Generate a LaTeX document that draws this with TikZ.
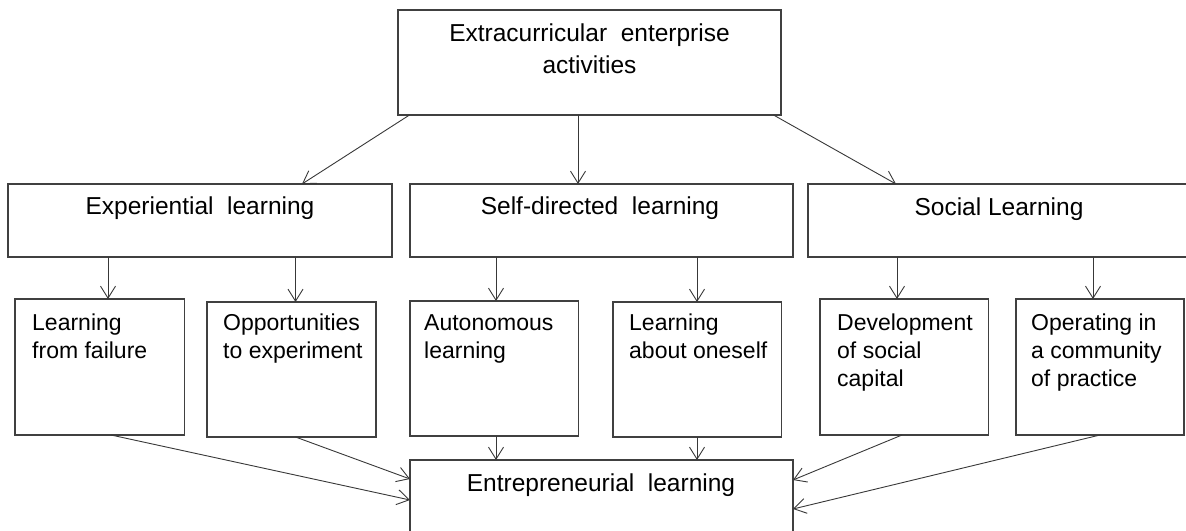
\documentclass[tikz,border=0pt]{standalone}
\usepackage{fontspec}
\setmainfont{Liberation Sans}
\usetikzlibrary{arrows.meta,calc}
\definecolor{boxc}{HTML}{404040}
\definecolor{arrc}{HTML}{383838}
\newcommand\hfs{\fontsize{24.5bp}{32bp}\selectfont}
\newcommand\bfs{\fontsize{23bp}{28.3bp}\selectfont}
\begin{document}
\begin{tikzpicture}[x=1bp,y=-1bp,
  box/.style={draw=boxc, line width=1.1bp, inner sep=0, outer sep=0, anchor=north west},
  arr/.style={draw=arrc, line width=0.9bp, -{Straight Barb[length=12bp,width=15bp]}},
  head/.style={font=\hfs, inner sep=0, anchor=base},
  lbl/.style={font=\bfs, inner sep=0, anchor=north west, align=left}]
\clip (0,0) rectangle (1186,531);
% boxes
\node[box, minimum width=383bp, minimum height=105bp] (top) at (398,10) {};
\node[box, minimum width=384bp, minimum height=73bp] (exp) at (8,184) {};
\node[box, minimum width=383bp, minimum height=73bp] (sdl) at (410,184) {};
\node[box, minimum width=382bp, minimum height=73bp] (soc) at (808,184) {};
\node[box, minimum width=169.5bp, minimum height=136bp] (b1) at (15,299) {};
\node[box, minimum width=169bp, minimum height=135bp] (b2) at (207,302) {};
\node[box, minimum width=168.5bp, minimum height=135bp] (b3) at (410,301) {};
\node[box, minimum width=168.5bp, minimum height=135bp] (b4) at (613,302) {};
\node[box, minimum width=168.5bp, minimum height=136bp] (b5) at (820,299) {};
\node[box, minimum width=168bp, minimum height=136bp] (b6) at (1016,299) {};
\node[box, minimum width=383bp, minimum height=100bp] (ent) at (410,460) {};
% texts
\node[font=\hfs, inner sep=0, anchor=north, align=center] (ttop) at ($(top.north)+(0,13)$) {\rule{0pt}{18bp}Extracurricular~ enterprise\\activities};
\node[head] (texp) at ($(exp.north)+(0,31)$) {Experiential~ learning};
\node[head] (tsdl) at ($(sdl.north)+(-1.5,31)$) {Self-directed~ learning};
\node[head] (tsoc) at ($(soc.north)+(0,32)$) {Social Learning};
\node[head] (tent) at ($(ent.north)+(-0.5,31)$) {Entrepreneurial~ learning};
\node[lbl] (t1) at ($(b1.north west)+(17,14)$) {\rule{0pt}{17bp}Learning\\from failure};
\node[lbl] (t2) at ($(b2.north west)+(16,11)$) {\rule{0pt}{17bp}Opportunities\\to experiment};
\node[lbl] (t3) at ($(b3.north west)+(14,12)$) {\rule{0pt}{17bp}Autonomous\\learning};
\node[lbl] (t4) at ($(b4.north west)+(16,11)$) {\rule{0pt}{17bp}Learning\\about oneself};
\node[lbl] (t5) at ($(b5.north west)+(17,14)$) {\rule{0pt}{17bp}Development\\of social\\capital};
\node[lbl] (t6) at ($(b6.north west)+(15,14)$) {\rule{0pt}{17bp}Operating in\\a community\\of practice};
% arrows from top
\draw[arr] ($(top.south west)+(11.5,0)$) -- ($(exp.north west)+(294,0)$);
\draw[arr] ($(top.south west)+(180,0)$) -- ($(sdl.north west)+(168,0)$);
\draw[arr] ($(top.south east)+(-7.5,0)$) -- ($(soc.north west)+(88,0)$);
% arrows to second row
\draw[arr] ($(exp.south west)+(100,0)$) -- ($(b1.north west)+(93,0)$);
\draw[arr] ($(exp.south west)+(287.5,0)$) -- ($(b2.north west)+(88.5,0)$);
\draw[arr] ($(sdl.south west)+(86,0)$) -- ($(b3.north west)+(86,0)$);
\draw[arr] ($(sdl.south west)+(287,0)$) -- ($(b4.north west)+(84,0)$);
\draw[arr] ($(soc.south west)+(89,0)$) -- ($(b5.north west)+(77,0)$);
\draw[arr] ($(soc.south west)+(285,0)$) -- ($(b6.north west)+(77,0)$);
% arrows to entrepreneurial learning
\draw[arr] ($(b1.south west)+(96,0)$) -- ($(ent.north west)+(0,40)$);
\draw[arr] ($(b2.south west)+(88.5,0)$) -- ($(ent.north west)+(0,19)$);
\draw[arr] ($(b3.south west)+(86,0)$) -- ($(ent.north west)+(86,0)$);
\draw[arr] ($(b4.south west)+(84,0)$) -- ($(ent.north west)+(287,0)$);
\draw[arr] ($(b5.south west)+(82,0)$) -- ($(ent.north east)+(0,20)$);
\draw[arr] ($(b6.south west)+(84,0)$) -- ($(ent.north east)+(0,49)$);
\end{tikzpicture}
\end{document}
